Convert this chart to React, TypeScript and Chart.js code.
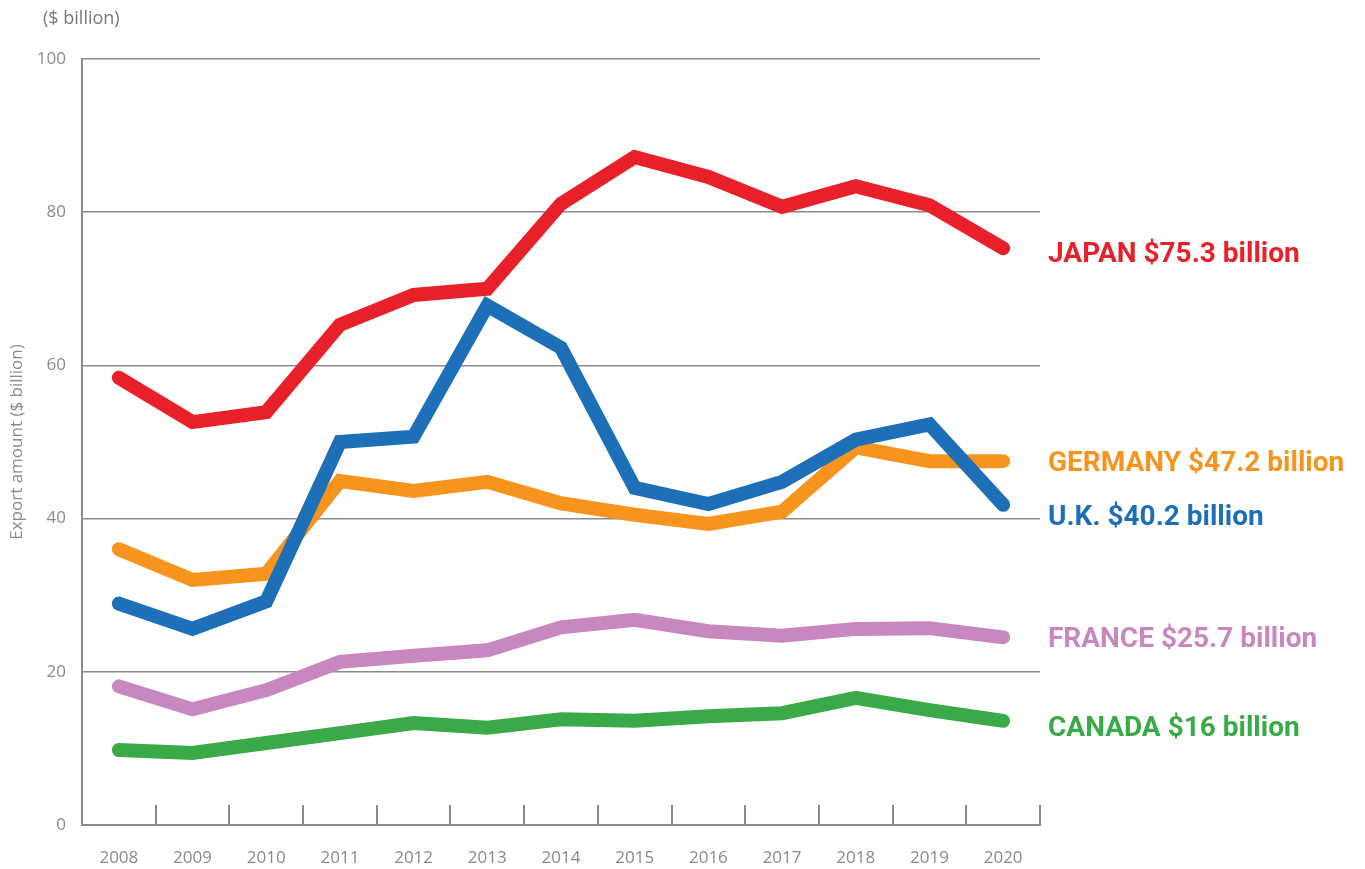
import React, { useEffect, useRef } from "react";
import { Chart, registerables } from "chart.js";

Chart.register(...registerables);

const years = ["2008", "2009", "2010", "2011", "2012", "2013", "2014", "2015", "2016", "2017", "2018", "2019", "2020"];
const japan = [58.4, 52.6, 53.9, 65.3, 69.2, 70.0, 81.1, 87.2, 84.6, 80.7, 83.4, 80.9, 75.3];
const uk = [28.9, 25.6, 29.2, 50.0, 50.7, 67.8, 62.3, 44.0, 41.9, 44.8, 50.3, 52.3, 41.8];
const germany = [36.0, 32.0, 32.8, 44.9, 43.6, 44.8, 42.0, 40.5, 39.3, 40.9, 49.3, 47.5, 47.5];
const france = [18.1, 15.1, 17.6, 21.3, 22.1, 22.8, 25.8, 26.8, 25.3, 24.7, 25.6, 25.7, 24.5];
const canada = [9.8, 9.4, 10.7, 12.0, 13.3, 12.7, 13.8, 13.6, 14.2, 14.6, 16.6, 15.0, 13.6];
const seriesLabels = ["JAPAN $75.3 billion", "U.K. $40.2 billion", "GERMANY $47.2 billion", "FRANCE $25.7 billion", "CANADA $16 billion"];
const seriesColors = ["#e8202a", "#1d6fb8", "#f7941d", "#c987c0", "#3aaa48"];
const labelDy = [7, 13, 3, 3, 8];
const yTicks = [0, 20, 40, 60, 80, 100];
const unitLabel = "($ billion)";
const yTitle = "Export amount ($ billion)";

const GRAY = "#8a8a8a";
const FONT = "'Open Sans', 'Noto Sans', sans-serif";

const endLabels = {
  id: "endLabels",
  afterDraw(chart: any) {
    const ctx = chart.ctx;
    const xs = chart.scales.x;
    const ys = chart.scales.y;
    ctx.save();
    ctx.strokeStyle = GRAY;
    ctx.lineWidth = 2;
    const n = years.length;
    for (let i = 1; i <= n; i++) {
      const x = Math.round(xs.left + (i * (xs.right - xs.left)) / n);
      ctx.beginPath();
      ctx.moveTo(x, ys.bottom);
      ctx.lineTo(x, ys.bottom - 20);
      ctx.stroke();
    }
    ctx.fillStyle = "#777";
    ctx.font = `18px ${FONT}`;
    ctx.textAlign = "left";
    ctx.textBaseline = "middle";
    ctx.fillText(unitLabel, 43, 19);
    ctx.font = `bold 28px 'Roboto', sans-serif`;
    chart.data.datasets.forEach((ds: any, i: number) => {
      const v = ds.data[ds.data.length - 1];
      const y = ys.getPixelForValue(v) + labelDy[i];
      ctx.fillStyle = seriesColors[i];
      ctx.fillText(seriesLabels[i], xs.right + 8, y);
    });
    ctx.restore();
  },
};

export default function App() {
  const ref = useRef<HTMLCanvasElement | null>(null);
  useEffect(() => {
    if (!ref.current) return;
    const data = [japan, uk, germany, france, canada];
    const chart = new Chart(ref.current, {
      type: "line",
      data: {
        labels: years,
        datasets: data.map((d, i) => ({
          label: seriesLabels[i],
          data: d,
          borderColor: seriesColors[i],
          backgroundColor: seriesColors[i],
          borderWidth: 14,
          borderCapStyle: "round",
          borderJoinStyle: "miter",
          pointRadius: 0,
          tension: 0,
          fill: false,
        })),
      },
      options: {
        animation: false,
        responsive: true,
        maintainAspectRatio: false,
        layout: { padding: { left: 0, right: 325, top: 59, bottom: 0 } },
        plugins: { legend: { display: false }, tooltip: { enabled: false } },
        scales: {
          x: {
            offset: true,
            grid: { display: false, drawTicks: false },
            border: { display: true, color: GRAY, width: 2 },
            ticks: { color: GRAY, font: { family: FONT, size: 17 }, padding: 23, maxRotation: 0 },
            afterFit: (s: any) => { s.height = 44; },
          },
          y: {
            min: 0,
            max: 100,
            afterBuildTicks: (s: any) => { s.ticks = yTicks.map((v) => ({ value: v })); },
            grid: { color: GRAY, lineWidth: 1.5, drawTicks: false },
            border: { display: true, color: GRAY, width: 2 },
            ticks: { color: GRAY, font: { family: FONT, size: 17 }, padding: 16 },
            title: { display: true, text: yTitle, color: GRAY, font: { family: FONT, size: 17 }, padding: { top: 7, bottom: 0 } },
            afterFit: (s: any) => { s.width = 82; },
          },
        },
      },
      plugins: [endLabels],
    });
    return () => chart.destroy();
  }, []);
  return (
    <div style={{ position: "absolute", left: 0, top: 0, width: 1365, height: 869, background: "#fff" }}>
      <canvas ref={ref} />
    </div>
  );
}
